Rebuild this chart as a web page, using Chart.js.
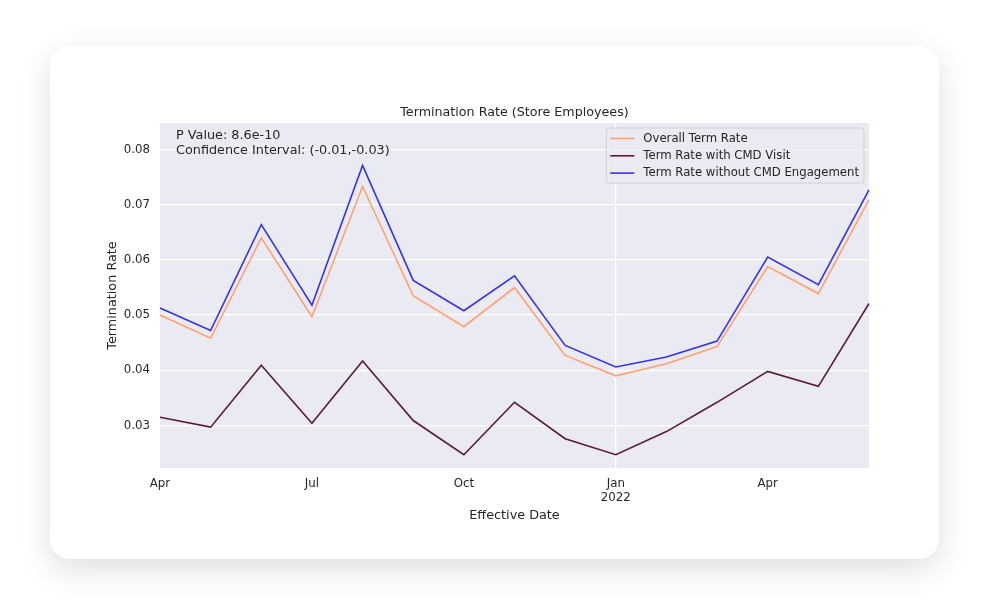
<!DOCTYPE html>
<html>
<head>
<meta charset="utf-8">
<script src="https://cdn.jsdelivr.net/npm/chart.js@4.4.0/dist/chart.umd.min.js"></script>
<style>
  html, body { margin: 0; padding: 0; background: #fff; width: 990px; height: 613px; overflow: hidden; }
  .card {
    position: absolute; left: 50px; top: 46px; width: 889px; height: 513px;
    background: #fff; border-radius: 20px;
    box-shadow: 0 10px 32px rgba(0, 0, 0, 0.13);
  }
  .card canvas { position: absolute; left: 0; top: 0; }
</style>
</head>
<body>
<div class="card"><canvas id="termChart" width="889" height="513"></canvas></div>
<script>
// Monthly data, Apr 2021 - Jun 2022
const months = ['2021-04', '2021-05', '2021-06', '2021-07', '2021-08', '2021-09', '2021-10',
                '2021-11', '2021-12', '2022-01', '2022-02', '2022-03', '2022-04', '2022-05', '2022-06'];
const xTickLabels = ['Apr', '', '', 'Jul', '', '', 'Oct', '', '', ['Jan', '2022'], '', '', 'Apr', '', ''];
const xGridMonths = ['2022-01'];

const overallRate = [0.0500, 0.0458, 0.0640, 0.0497, 0.0733, 0.0535, 0.0479, 0.0550,
                     0.0427, 0.0390, 0.0412, 0.0443, 0.0588, 0.0539, 0.0709];
const visitRate = [0.0315, 0.0297, 0.0409, 0.0304, 0.0417, 0.0309, 0.0247, 0.0342,
                   0.0276, 0.0247, 0.0289, 0.0342, 0.0398, 0.0371, 0.0521];
const noEngagementRate = [0.0513, 0.0472, 0.0664, 0.0518, 0.0771, 0.0563, 0.0508, 0.0571,
                          0.0445, 0.0406, 0.0424, 0.0453, 0.0605, 0.0555, 0.0727];

const yTicks = [0.03, 0.04, 0.05, 0.06, 0.07, 0.08];

const chartTitle = 'Termination Rate (Store Employees)';
const statsLines = ['P Value: 8.6e-10', 'Confidence Interval: (-0.01,-0.03)'];

const FONT = '"DejaVu Sans", Verdana, sans-serif';
const TEXT = '#262626';
const PANEL = '#eaeaf2';

// background panel, title, stats text and legend box (matplotlib style)
const seabornPlugin = {
    id: 'seabornLook',
    beforeDraw(chart) {
        const { ctx, chartArea: a } = chart;
        ctx.save();
        ctx.fillStyle = PANEL;
        ctx.fillRect(a.left, a.top, a.right - a.left, a.bottom - a.top);
        ctx.restore();
    },
    afterDraw(chart) {
        const { ctx, chartArea: a } = chart;
        ctx.save();
        ctx.fillStyle = TEXT;
        ctx.textBaseline = 'middle';

        // title
        ctx.font = '12.7px ' + FONT;
        ctx.textAlign = 'center';
        ctx.fillText(chartTitle, (a.left + a.right) / 2, a.top - 10.5);

        // stats text
        ctx.font = '12.8px ' + FONT;
        ctx.textAlign = 'left';
        statsLines.forEach((line, i) => {
            ctx.fillText(line, a.left + 16, a.top + 12.5 + i * 15);
        });

        // legend
        ctx.font = '11.7px ' + FONT;
        const sets = chart.data.datasets;
        let maxW = 0;
        sets.forEach(ds => { maxW = Math.max(maxW, ctx.measureText(ds.label).width); });
        const boxW = 37 + maxW + 5;
        const boxH = 55;
        const boxR = a.right - 5;
        const boxL = boxR - boxW;
        const boxT = a.top + 5;
        ctx.beginPath();
        ctx.roundRect(boxL, boxT, boxW, boxH, 3);
        ctx.fillStyle = 'rgba(234, 234, 242, 0.8)';
        ctx.fill();
        ctx.strokeStyle = '#cfcfd6';
        ctx.lineWidth = 1;
        ctx.stroke();
        sets.forEach((ds, i) => {
            const y = boxT + 10.5 + i * 17.3;
            ctx.beginPath();
            ctx.moveTo(boxL + 4, y);
            ctx.lineTo(boxL + 28, y);
            ctx.strokeStyle = ds.borderColor;
            ctx.lineWidth = 1.6;
            ctx.stroke();
            ctx.fillStyle = TEXT;
            ctx.fillText(ds.label, boxL + 37, y);
        });
        ctx.restore();
    }
};

const ctx = document.getElementById('termChart').getContext('2d');
new Chart(ctx, {
    type: 'line',
    data: {
        labels: months,
        datasets: [
            {
                label: 'Overall Term Rate',
                data: overallRate,
                borderColor: '#ffa070',
                borderWidth: 1.6,
                pointRadius: 0,
                tension: 0,
                fill: false
            },
            {
                label: 'Term Rate with CMD Visit',
                data: visitRate,
                borderColor: '#5c1a38',
                borderWidth: 1.6,
                pointRadius: 0,
                tension: 0,
                fill: false
            },
            {
                label: 'Term Rate without CMD Engagement',
                data: noEngagementRate,
                borderColor: '#3232ee',
                borderWidth: 1.6,
                pointRadius: 0,
                tension: 0,
                fill: false
            }
        ]
    },
    options: {
        responsive: false,
        animation: false,
        layout: {
            padding: { left: 50, right: 70, top: 77, bottom: 30 }
        },
        scales: {
            x: {
                type: 'category',
                offset: false,
                border: { display: false },
                grid: {
                    drawTicks: false,
                    lineWidth: 1.3,
                    color: c => (c.tick && xGridMonths.includes(months[c.index])) ? '#ffffff' : 'rgba(0,0,0,0)'
                },
                ticks: {
                    autoSkip: false,
                    maxRotation: 0,
                    padding: 9,
                    color: TEXT,
                    font: { family: FONT, size: 11.8 },
                    callback: (value, index) => xTickLabels[index]
                },
                title: {
                    display: true,
                    text: 'Effective Date',
                    color: TEXT,
                    font: { family: FONT, size: 12.8 },
                    padding: { top: 6, bottom: 6 }
                },
                afterFit: scale => { scale.height = 61; }
            },
            y: {
                min: 0.0223,
                max: 0.0848,
                border: { display: false },
                grid: {
                    drawTicks: false,
                    color: '#ffffff',
                    lineWidth: 1.3
                },
                ticks: {
                    padding: 10,
                    color: TEXT,
                    font: { family: FONT, size: 11.8 },
                    callback: value => value.toFixed(2)
                },
                afterBuildTicks: scale => { scale.ticks = yTicks.map(v => ({ value: v })); },
                title: {
                    display: true,
                    text: 'Termination Rate',
                    color: TEXT,
                    font: { family: FONT, size: 12.8 },
                    padding: { top: 5, bottom: 5 }
                },
                afterFit: scale => { scale.width = 60; }
            }
        },
        plugins: {
            legend: { display: false },
            tooltip: { enabled: false }
        }
    },
    plugins: [seabornPlugin]
});
</script>
</body>
</html>
